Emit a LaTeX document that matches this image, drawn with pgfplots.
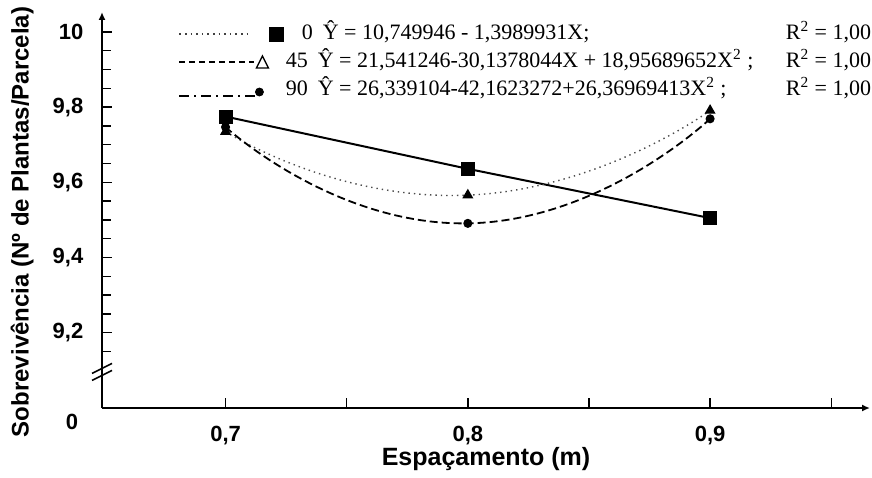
\documentclass[border=0pt]{standalone}
\usepackage{fontspec}
\setmainfont{Liberation Serif}
\setsansfont{Liberation Sans}
\usepackage{pgfplots}
\usepackage{pgfplotstable}
\pgfplotsset{compat=1.18}
\usetikzlibrary{arrows.meta}

% 0: linear fit, squares
\pgfplotstableread{
x y
0.7 9.775
0.8 9.636
0.9 9.505
}\tabzero
% 45: triangles (dotted curve)
\pgfplotstableread{
x y
0.7 9.735
0.8 9.566
0.9 9.791
}\tabqua
% 90: circles (dashed curve)
\pgfplotstableread{
x y
0.7 9.747
0.8 9.491
0.9 9.769
}\tabnov

\begin{document}
\begin{tikzpicture}
\useasboundingbox (-51pt,-34.5pt) rectangle (385pt,204pt);
\begin{axis}[
  at={(0,0)}, anchor=south west,
  scale only axis, width=384pt, height=198pt,
  xmin=0.649, xmax=0.966, ymin=9.0, ymax=10.053,
  axis lines=left,
  axis line style={line width=1pt, -{Latex[length=4pt,width=3.5pt]}},
  tick align=inside,
  major tick length=5pt, minor tick length=4.5pt,
  every tick/.style={black, line width=0.7pt},
  xtick={0.7,0.75,0.8,0.85,0.9,0.95},
  xticklabels={{0,7},,{0,8},,{0,9},},
  ytick={9.2,9.4,9.6,9.8,10},
  yticklabels={{9,2},{9,4},{9,6},{9,8},10},
  minor ytick={9.15,9.25,9.3,9.35,9.45,9.5,9.55,9.65,9.7,9.75,9.85,9.9,9.95},
  tick label style={font=\sffamily\bfseries\fontsize{11}{13}\selectfont},
  xticklabel style={yshift=-5.7pt},
  yticklabel style={xshift=-5.8pt},
  xlabel={Espaçamento (m)},
  ylabel={Sobrevivência (Nº de Plantas/Parcela)},
  label style={font=\sffamily\bfseries\fontsize{12.5}{14}\selectfont},
  xlabel style={at={(axis description cs:0.5,0)}, anchor=base, yshift=-28.5pt},
  ylabel style={at={(axis description cs:-0.104,0.47)}, anchor=center,
    font=\sffamily\bfseries\fontsize{12}{14}\selectfont},
  clip=false,
  legend style={at={(rel axis cs:0.099,0.977)}, anchor=north west,
    draw=none, fill=none, inner sep=0pt, row sep=1.5pt,
    font=\fontsize{11}{13}\selectfont,
    nodes={text height=8pt, text depth=2.5pt, inner sep=1pt}},
  legend cell align=left,
]
\addlegendimage{legend image code/.code={
  \path[draw=none, fill=none] (0pt,-4pt) rectangle (52pt,4pt);
  \draw[black!75, line width=0.8pt, dotted] (0pt,0pt) -- (35pt,0pt);
  \fill[black] (45pt,-3.5pt) rectangle (52pt,3.5pt);
}}
\addlegendentry{\makebox[250pt][l]{\hspace{8pt}0\hspace{5pt}Ŷ = 10,749946 - 1,3989931X;}R\textsuperscript{2} = 1,00}
\addlegendimage{legend image code/.code={
  \path[draw=none, fill=none] (0pt,-4pt) rectangle (52pt,4pt);
  \draw[black, line width=1pt, dash pattern=on 3pt off 2pt] (0pt,0pt) -- (37.5pt,0pt);
  \draw[black, line width=0.7pt] (38.5pt,-3pt) -- (44.5pt,-3pt) -- (41.5pt,3pt) -- cycle;
}}
\addlegendentry{\makebox[250pt][l]{45\hspace{5pt}Ŷ = 21,541246-30,1378044X + 18,95689652X\textsuperscript{2} ;}R\textsuperscript{2} = 1,00}
\addlegendimage{legend image code/.code={
  \path[draw=none, fill=none] (0pt,-4pt) rectangle (52pt,4pt);
  \draw[black, line width=1pt, dash pattern=on 5pt off 2.5pt on 1pt off 2.5pt] (0pt,-3pt) -- (38pt,-3pt);
  \fill[black] (40pt,-1pt) circle (2pt);
}}
\addlegendentry{\makebox[250pt][l]{90\hspace{5pt}Ŷ = 26,339104-42,1623272+26,36969413X\textsuperscript{2} ;}R\textsuperscript{2} = 1,00}

\addplot[black, line width=1pt, mark=square*, mark size=3pt, forget plot] table {\tabzero};
\addplot[black!70, line width=0.7pt, dotted, smooth, tension=1, mark=triangle*, mark size=2.5pt,
  mark options={solid, black}, forget plot] table {\tabqua};
\addplot[black, line width=0.9pt, dash pattern=on 4pt off 2pt, smooth, tension=1, mark=*, mark size=1.8pt,
  mark options={solid}, forget plot] table {\tabnov};

% "0" label at the broken origin
\node[font=\sffamily\bfseries\fontsize{11}{13}\selectfont, xshift=-15pt, yshift=-7pt]
  at (rel axis cs:0,0) {0};
% axis break marks
\draw[line width=0.8pt] ([xshift=-5pt,yshift=-5pt]axis cs:0.649,9.1) -- ++(10pt,5pt);
\draw[line width=0.8pt] ([xshift=-5pt,yshift=-1.5pt]axis cs:0.649,9.1) -- ++(10pt,5pt);
\end{axis}
\end{tikzpicture}
\end{document}
